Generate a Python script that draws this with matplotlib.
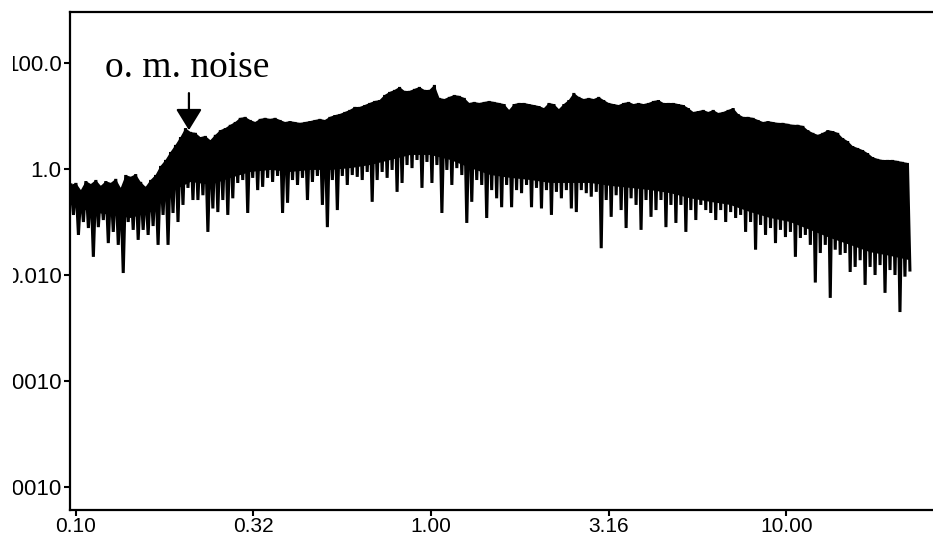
import numpy as np
import matplotlib
matplotlib.use("Agg")
import matplotlib.pyplot as plt
from matplotlib import font_manager
from matplotlib.transforms import Bbox, TransformedBbox

# ---------------- data ----------------
# frequency range of the spectrum (first and last sample)
f_start = 0.0968
f_stop = 22.3

# upper (crest) values of the noisy spectrum, left to right
upper = [0.50, 0.545, 0.40, 0.59, 0.52, 0.62, 0.48, 0.59, 0.545, 0.65,
         0.44, 0.77, 0.71, 0.80, 0.57, 0.46, 0.62, 0.77, 1.14, 1.48,
         2.09, 2.84, 4.0, 5.9, 5.0, 4.8, 4.0, 4.2, 3.5, 4.4,
         5.4, 5.9, 6.8, 7.7, 9.2, 9.6, 8.4, 7.7, 8.8, 9.2,
         8.8, 9.2, 8.4, 7.7, 8.0, 7.7, 7.4, 7.7, 8.0, 8.4,
         8.8, 8.4, 9.6, 10.4, 10.9, 11.9, 13.0, 14.8, 14.8, 16.1,
         17.6, 19.2, 20.0, 24.9, 28.4, 31.0, 35.3, 29.7, 29.7, 32.4,
         35.3, 31.0, 31.0, 38.5, 21.9, 20.9, 22.9, 24.9, 23.9, 21.9,
         17.6, 18.4, 17.6, 18.4, 19.2, 18.4, 17.6, 16.8, 13.0, 16.8,
         17.6, 17.6, 16.8, 16.1, 15.4, 14.1, 17.6, 16.8, 13.5, 16.8,
         20.0, 27.2, 22.9, 20.9, 21.9, 20.9, 22.9, 20.0, 17.6, 16.8,
         16.1, 17.6, 18.4, 16.8, 17.6, 16.8, 17.6, 19.2, 20.0, 17.6,
         17.6, 17.6, 16.8, 16.1, 14.1, 11.9, 12.4, 13.0, 11.9, 13.0,
         11.4, 11.9, 13.0, 14.1, 10.9, 9.6, 9.6, 9.2, 8.4, 7.7,
         8.0, 7.7, 7.4, 7.4, 7.1, 6.8, 6.8, 6.5, 5.4, 4.8,
         4.4, 4.8, 5.4, 5.2, 4.8, 3.84, 3.37, 2.71, 2.49, 2.28,
         2.0, 1.68, 1.55, 1.48, 1.48, 1.48, 1.42, 1.36, 1.30]

# lower (trough / spike) values, each one just after the crest of the same index
lower = [0.136, 0.057, 0.100, 0.077, 0.022, 0.080, 0.109, 0.040, 0.065, 0.037,
         0.0109, 0.100, 0.071, 0.046, 0.071, 0.057, 0.084, 0.037, 0.136, 0.037,
         0.148, 0.100, 0.21, 0.44, 0.26, 0.26, 0.32, 0.065, 0.18, 0.154,
         0.26, 0.136, 0.28, 0.545, 0.62, 0.148, 0.68, 0.40, 0.46, 0.68,
         0.57, 0.74, 0.148, 0.23, 0.62, 0.50, 0.68, 0.26, 0.57, 0.74,
         0.21, 0.080, 0.62, 0.168, 0.74, 0.50, 0.77, 0.71, 0.62, 0.88,
         0.24, 0.62, 0.88, 0.68, 0.96, 0.37, 0.545, 1.19, 1.04, 1.48,
         0.44, 1.36, 0.545, 1.19, 0.148, 0.96, 0.50, 1.04, 0.77, 0.096,
         0.24, 0.62, 0.50, 0.119, 0.40, 0.28, 0.19, 0.50, 0.19, 0.40,
         0.35, 0.50, 0.19, 0.44, 0.18, 0.40, 0.136, 0.37, 0.28, 0.40,
         0.18, 0.154, 0.40, 0.35, 0.30, 0.37, 0.032, 0.26, 0.125, 0.32,
         0.168, 0.077, 0.28, 0.21, 0.071, 0.26, 0.125, 0.168, 0.26, 0.080,
         0.21, 0.096, 0.21, 0.065, 0.168, 0.109, 0.21, 0.168, 0.148, 0.109,
         0.168, 0.100, 0.154, 0.119, 0.136, 0.065, 0.100, 0.030, 0.088, 0.057,
         0.077, 0.040, 0.071, 0.052, 0.065, 0.022, 0.050, 0.057, 0.037, 0.0072,
         0.026, 0.037, 0.0037, 0.030, 0.024, 0.026, 0.0114, 0.0142, 0.019, 0.0065,
         0.0142, 0.0100, 0.0154, 0.0046, 0.0124, 0.0100, 0.0020, 0.0093, 0.0124]

# lower edge of the dense (solid) band, coarse sampling over the same range
band_floor = [0.21, 0.154, 0.136, 0.119, 0.154, 0.37, 0.57, 0.50, 0.68, 0.88,
              0.96, 0.88, 0.96, 0.96, 1.04, 1.19, 1.48, 1.84, 1.84, 1.48,
              1.04, 0.77, 0.68, 0.62, 0.545, 0.545, 0.545, 0.48, 0.44, 0.40,
              0.35, 0.28, 0.24, 0.21, 0.154, 0.119, 0.100, 0.071, 0.050, 0.037,
              0.027, 0.023, 0.019]

x_ticks = [0.1, 0.316, 1.0, 3.16, 10.0]
x_ticklabels = ["0.10", "0.32", "1.00", "3.16", "10.00"]
y_ticks = [100.0, 1.0, 0.01, 1e-4, 1e-6]
y_ticklabels = ["100.0", "1.0", "0.010", "0.00010", "0.0000010"]

annot_text = "o. m. noise"
arrow_tip = (0.208, 5.4)
arrow_tail = (0.208, 27.0)

# ---------------- fonts ----------------
avail = {f.name for f in font_manager.fontManager.ttflist}
tick_family = [f for f in ["Liberation Sans", "DejaVu Sans"] if f in avail] or ["DejaVu Sans"]
serif_family = [f for f in ["Liberation Serif", "DejaVu Serif"] if f in avail] or ["serif"]

# ---------------- figure ----------------
W, H = 933, 538
fig = plt.figure(figsize=(W / 100, H / 100), dpi=100)
ax = fig.add_axes([70 / W, 28 / H, 1 - 70 / W, (510 - 12) / H])

n = len(upper)
freqs = np.geomspace(f_start, f_stop, 2 * n)
values = np.column_stack([upper, lower]).ravel()
f_up = freqs[0::2]
f_floor = np.geomspace(f_start, f_stop, len(band_floor))

# dense band
ax.fill(np.concatenate([f_up, f_floor[::-1]]),
        np.concatenate([upper, band_floor[::-1]]),
        color="black", lw=0, zorder=2)
# spectrum trace
ax.plot(freqs, values, color="black", lw=2.2, solid_joinstyle="miter", zorder=3)

ax.set_xscale("log")
ax.set_yscale("log")
ax.set_xlim(0.0962, 25.9)
ax.set_ylim(3.68e-7, 916)

ax.xaxis.set_major_locator(matplotlib.ticker.FixedLocator(x_ticks))
ax.yaxis.set_major_locator(matplotlib.ticker.FixedLocator(y_ticks))
ax.xaxis.set_minor_locator(matplotlib.ticker.NullLocator())
ax.yaxis.set_minor_locator(matplotlib.ticker.NullLocator())
ax.set_xticklabels(x_ticklabels, family=tick_family, fontsize=15)
ax.set_yticklabels(y_ticklabels, family=tick_family, fontsize=16)
ax.tick_params(direction="out", length=4, width=1.5, color="black")
ax.tick_params(axis="x", pad=1)
ax.tick_params(axis="y", pad=2)

for s in ["left", "bottom", "top"]:
    ax.spines[s].set_linewidth(1.6)
    ax.spines[s].set_color("black")
ax.spines["right"].set_visible(False)

ax.annotate("", xy=arrow_tip, xytext=arrow_tail,
            arrowprops=dict(arrowstyle="-|>,head_length=0.65,head_width=0.4",
                            mutation_scale=20, lw=1.6, color="black",
                            shrinkA=0, shrinkB=0), zorder=4)
fig.text(105 / W, (H - 77) / H, annot_text, family=serif_family,
         fontsize=27, ha="left", va="baseline", color="black")

# the original chart clips its y labels a little inside the left edge
clip = TransformedBbox(Bbox.from_extents(13 / W, 0, 1, 1), fig.transFigure)
for lab in ax.get_yticklabels():
    lab.set_clip_box(clip)
    lab.set_clip_on(True)

fig.savefig("out.png", dpi=100)
